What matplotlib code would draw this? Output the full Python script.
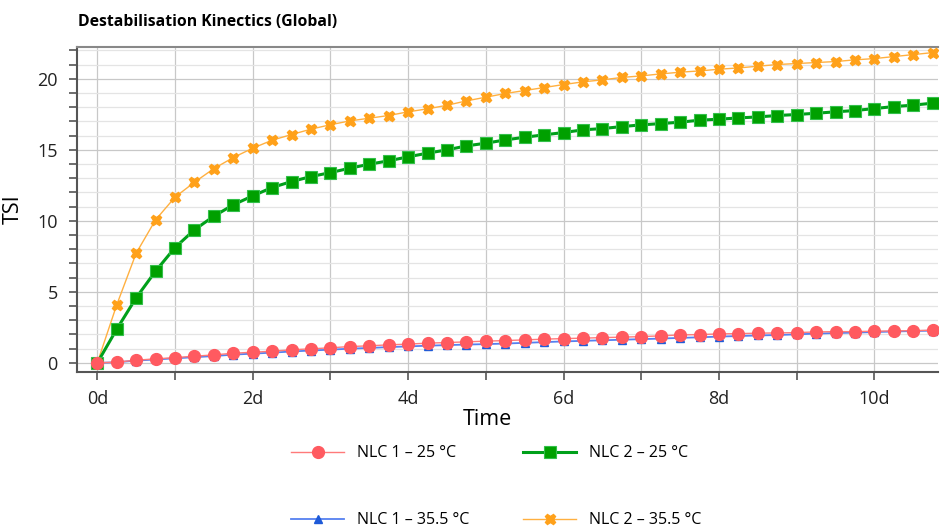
import matplotlib
matplotlib.use('Agg')
import matplotlib.pyplot as plt
from matplotlib.ticker import MultipleLocator, FuncFormatter

# time axis: one reading every 6 h (in days)
days = [i * 0.25 for i in range(44)]

# TSI values
nlc1_25 = [0.00, 0.05, 0.19, 0.28, 0.37, 0.47, 0.56, 0.68, 0.75, 0.82,
           0.92, 0.99, 1.06, 1.15, 1.20, 1.27, 1.32, 1.39, 1.43, 1.48,
           1.53, 1.57, 1.62, 1.67, 1.71, 1.74, 1.78, 1.81, 1.85, 1.90,
           1.97, 1.99, 2.04, 2.06, 2.09, 2.11, 2.13, 2.18, 2.20, 2.20,
           2.23, 2.25, 2.27, 2.30]
nlc1_355 = [0.00, 0.04, 0.16, 0.24, 0.32, 0.40, 0.48, 0.58, 0.65, 0.72,
            0.80, 0.87, 0.93, 1.00, 1.05, 1.11, 1.16, 1.21, 1.25, 1.29,
            1.32, 1.36, 1.41, 1.46, 1.51, 1.55, 1.59, 1.63, 1.67, 1.71,
            1.76, 1.80, 1.85, 1.89, 1.93, 1.96, 2.01, 2.06, 2.10, 2.13,
            2.17, 2.21, 2.24, 2.27]
nlc2_25 = [0.00, 2.37, 4.58, 6.46, 8.12, 9.37, 10.33, 11.13, 11.76, 12.35,
           12.77, 13.12, 13.40, 13.71, 13.99, 14.23, 14.51, 14.77, 15.00, 15.28,
           15.47, 15.70, 15.89, 16.06, 16.22, 16.41, 16.50, 16.64, 16.76, 16.85,
           16.95, 17.09, 17.16, 17.25, 17.32, 17.42, 17.49, 17.58, 17.68, 17.77,
           17.91, 18.05, 18.15, 18.29]
nlc2_355 = [0.00, 4.08, 7.72, 10.07, 11.67, 12.72, 13.68, 14.46, 15.12, 15.68,
            16.08, 16.46, 16.77, 17.04, 17.23, 17.42, 17.68, 17.89, 18.14, 18.45,
            18.71, 18.97, 19.18, 19.39, 19.60, 19.79, 19.93, 20.10, 20.21, 20.35,
            20.47, 20.56, 20.68, 20.77, 20.89, 21.01, 21.08, 21.15, 21.22, 21.34,
            21.43, 21.57, 21.71, 21.85]

plt.rcParams['font.family'] = ['Open Sans', 'DejaVu Sans']

fig = plt.figure(figsize=(9.4, 5.3), dpi=100)
ax = fig.add_axes([0.082, 0.299, 0.916, 0.613])

ax.plot(days, nlc2_355, color='#FFB040', lw=1.0, marker='X', ms=7.5,
        mfc='#FFA11A', mec='#FFA11A', label='NLC 2 – 35.5 °C', zorder=3)
ax.plot(days, nlc2_25, color='#00A01A', lw=2.2, marker='s', ms=9,
        mfc='#00A000', mec='#33C04A', mew=0.8, label='NLC 2 – 25 °C', zorder=4)
ax.plot(days, nlc1_355, color='#5580F0', lw=1.3, marker='^', ms=6,
        mfc='#1E5AD8', mec='#1E5AD8', label='NLC 1 – 35.5 °C', zorder=5)
ax.plot(days, nlc1_25, color='#FF7A7A', lw=1.0, marker='o', ms=8.5,
        mfc='#FF5A60', mec='#FF5A60', label='NLC 1 – 25 °C', zorder=6)

ax.set_xlim(-0.26, 10.82)
ax.set_ylim(-0.61, 22.27)

ax.xaxis.set_major_locator(MultipleLocator(2))
ax.xaxis.set_minor_locator(MultipleLocator(1))
ax.xaxis.set_major_formatter(FuncFormatter(lambda v, p: f'{int(v)}d'))
ax.yaxis.set_major_locator(MultipleLocator(5))
ax.yaxis.set_minor_locator(MultipleLocator(1))

ax.grid(which='major', color='#c8c8c8', lw=0.9)
ax.grid(which='minor', axis='x', color='#c8c8c8', lw=0.9)
ax.grid(which='minor', axis='y', color='#e4e4e4', lw=0.9)
ax.set_axisbelow(True)

ax.tick_params(which='both', direction='out', color='#555555', length=6, width=1.2,
               labelsize=13, labelcolor='#222222')
ax.tick_params(axis='x', pad=7)
ax.tick_params(axis='y', pad=8)

for s in ['left', 'bottom']:
    ax.spines[s].set_color('#555555')
    ax.spines[s].set_linewidth(1.5)
ax.spines['top'].set_color('#888888')
ax.spines['top'].set_linewidth(1.5)
ax.spines['right'].set_visible(False)

ax.set_xlabel('Time', fontsize=15.5, labelpad=0)
ax.xaxis.set_label_coords(0.476, -0.115)
ax.set_ylabel('TSI', fontsize=15.5)
ax.yaxis.set_label_coords(-0.062, 0.5)

fig.text(0.083, 0.958, 'Destabilisation Kinectics (Global)', fontsize=11.3,
         fontweight='bold', ha='left', va='center')

handles, labels = ax.get_legend_handles_labels()
order = [3, 2, 1, 0]
fig.legend([handles[i] for i in order], [labels[i] for i in order],
           ncol=2, loc='upper center', bbox_to_anchor=(0.528, 0.175),
           frameon=False, fontsize=11.5, handlelength=3.3, handletextpad=0.8,
           columnspacing=3.4, labelspacing=3.2, borderpad=0)

fig.savefig('out.png', dpi=100)
